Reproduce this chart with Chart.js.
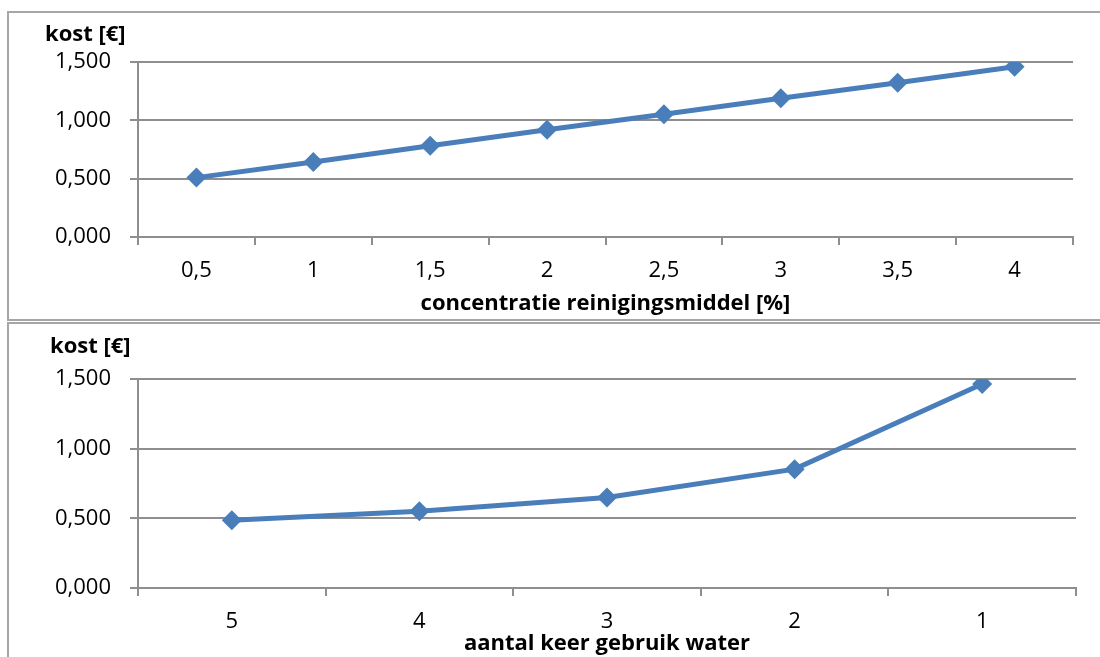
<!DOCTYPE html>
<html>
<head>
<meta charset="utf-8">
<script src="https://cdn.jsdelivr.net/npm/chart.js@4.4.1/dist/chart.umd.min.js"></script>
<style>
  html, body { margin: 0; padding: 0; background: #fff; overflow: hidden; width: 1100px; height: 657px; }
  .frame { position: absolute; border: 2px solid #a6a6a6; box-sizing: border-box; }
  .plot { position: absolute; left: 0; }
</style>
</head>
<body>
<div class="frame" style="left:7px;top:11px;width:1100px;height:310px"></div>
<div class="frame" style="left:7px;top:322px;width:1100px;height:400px"></div>
<div class="plot" style="top:0;width:1100px;height:320px"><canvas id="chartConcentratie"></canvas></div>
<div class="plot" style="top:320px;width:1100px;height:337px"><canvas id="chartWater"></canvas></div>
<script>
// Cost per cleaning vs. detergent concentration
const concentraties = ['0,5', '1', '1,5', '2', '2,5', '3', '3,5', '4'];
const kostConcentratie = [0.509, 0.643, 0.783, 0.920, 1.052, 1.189, 1.323, 1.460];

// Cost per cleaning vs. number of times the water is reused
const gebruikWater = ['5', '4', '3', '2', '1'];
const kostGebruik = [0.487, 0.551, 0.650, 0.853, 1.464];

// Shared y-axis ticks (Dutch decimal comma)
const kostTicks = [0, 0.5, 1.0, 1.5];
const kostTickLabels = ['0,000', '0,500', '1,000', '1,500'];

const yTitle = 'kost [€]';
const xTitleConcentratie = 'concentratie reinigingsmiddel [%]';
const xTitleWater = 'aantal keer gebruik water';

const FONT = '"Open Sans", Lato, sans-serif';
const FONT_SIZE = 22;
const BLUE = '#4a7ebb';
const GRID = '#8e8e8e';

// Draws the horizontal "kost [€]" label above the value axis
const cornerTitle = {
  id: 'cornerTitle',
  afterDraw(chart, args, opts) {
    const ctx = chart.ctx;
    ctx.save();
    ctx.font = 'bold ' + opts.size + 'px ' + FONT;
    ctx.fillStyle = '#000';
    ctx.textAlign = 'left';
    ctx.textBaseline = 'alphabetic';
    ctx.fillText(opts.text, opts.x, opts.y);
    ctx.restore();
  }
};

function buildChart(canvasId, labels, values, xTitle, box) {
  return new Chart(document.getElementById(canvasId), {
    type: 'line',
    data: {
      labels: labels,
      datasets: [{
        data: values,
        borderColor: BLUE,
        backgroundColor: BLUE,
        borderWidth: 5,
        tension: 0,
        pointStyle: 'rectRot',
        pointRadius: 10,
        pointHoverRadius: 10,
        pointBorderWidth: 0,
        pointBackgroundColor: BLUE,
        fill: false
      }]
    },
    options: {
      responsive: true,
      maintainAspectRatio: false,
      animation: false,
      devicePixelRatio: 1,
      layout: { padding: { left: 0, top: box.top, right: box.right, bottom: 0 } },
      plugins: {
        legend: { display: false },
        tooltip: { enabled: false },
        cornerTitle: { text: yTitle, x: box.titleX, y: box.titleY, size: FONT_SIZE }
      },
      scales: {
        x: {
          type: 'category',
          offset: true,
          afterFit(s) { s.height = box.xHeight; },
          grid: {
            offset: true,
            drawOnChartArea: false,
            drawTicks: true,
            tickLength: 8,
            color: GRID,
            lineWidth: 2
          },
          border: { display: true, color: GRID, width: 2 },
          ticks: {
            color: '#000',
            padding: 13,
            maxRotation: 0,
            font: { family: FONT, size: FONT_SIZE }
          },
          title: {
            display: true,
            text: xTitle,
            color: '#000',
            padding: { top: 0, bottom: box.xTitlePad },
            font: { family: FONT, size: FONT_SIZE, weight: 'bold' }
          }
        },
        y: {
          min: 0,
          max: 1.5,
          afterFit(s) { s.width = 138; },
          afterBuildTicks(s) { s.ticks = kostTicks.map(v => ({ value: v })); },
          grid: {
            color: GRID,
            lineWidth: 2,
            drawTicks: true,
            tickLength: 8
          },
          border: { display: true, color: GRID, width: 2 },
          ticks: {
            color: '#000',
            padding: 19,
            font: { family: FONT, size: FONT_SIZE },
            callback(value, index) { return kostTickLabels[index]; }
          }
        }
      }
    },
    plugins: [cornerTitle]
  });
}

buildChart('chartConcentratie', concentraties, kostConcentratie, xTitleConcentratie,
  { top: 62, right: 27, xHeight: 83, xTitlePad: 3, titleX: 45, titleY: 41 });
buildChart('chartWater', gebruikWater, kostGebruik, xTitleWater,
  { top: 59, right: 24, xHeight: 69, xTitlePad: 0, titleX: 50, titleY: 32.7 });
</script>
</body>
</html>
